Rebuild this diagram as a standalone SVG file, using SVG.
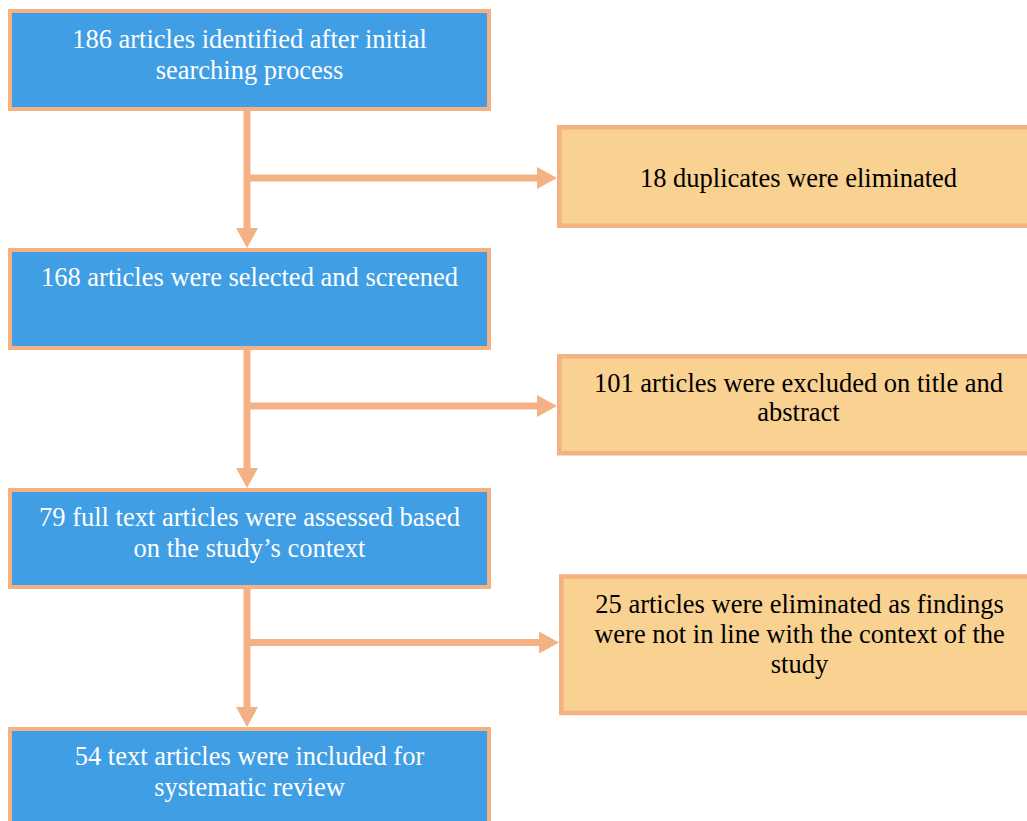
<svg xmlns="http://www.w3.org/2000/svg" width="1027" height="821" viewBox="0 0 1027 821">
  <style>
    .blue { fill: #3f9ee4; stroke: #f4b183; stroke-width: 4; }
    .orange { fill: #f9d190; stroke: #f4b183; stroke-width: 4.5; }
    .t { font-family: "Liberation Serif", "Times New Roman", serif; font-size: 26.5px; text-anchor: middle; }
    .tw { fill: #ffffff; }
    .tb { fill: #000000; }
    .conn { fill: none; stroke: #f4b183; stroke-width: 7; }
  </style>
  <defs>
    <marker id="arr" viewBox="0 0 20 22" refX="4" refY="11" markerWidth="20" markerHeight="22" markerUnits="userSpaceOnUse" orient="auto">
      <path d="M0,0 L20,11 L0,22 z" fill="#f4b183"/>
    </marker>
  </defs>
  <rect width="1027" height="821" fill="#ffffff"/>

  <g id="connectors">
    <path class="conn" d="M247,111 V232" marker-end="url(#arr)"/>
    <path class="conn" d="M247,178 H541" marker-end="url(#arr)"/>
    <path class="conn" d="M247,350 V472" marker-end="url(#arr)"/>
    <path class="conn" d="M247,406 H541" marker-end="url(#arr)"/>
    <path class="conn" d="M247,589 V711" marker-end="url(#arr)"/>
    <path class="conn" d="M247,642.5 H543" marker-end="url(#arr)"/>
  </g>

  <g id="node-identified">
    <rect class="blue" x="10" y="11" width="479" height="98"/>
    <text class="t tw" x="249.5" y="48">186 articles identified after initial</text>
    <text class="t tw" x="249.5" y="78.5">searching process</text>
  </g>

  <g id="node-duplicates">
    <rect class="orange" x="559.25" y="127.25" width="480" height="98.5"/>
    <text class="t tb" x="798.5" y="187">18 duplicates were eliminated</text>
  </g>

  <g id="node-screened">
    <rect class="blue" x="10" y="250" width="479" height="98"/>
    <text class="t tw" x="249.5" y="286">168 articles were selected and screened</text>
  </g>

  <g id="node-excluded">
    <rect class="orange" x="559.25" y="356.25" width="480" height="97"/>
    <text class="t tb" x="798.5" y="391.5">101 articles were excluded on title and</text>
    <text class="t tb" x="798.5" y="421">abstract</text>
  </g>

  <g id="node-assessed">
    <rect class="blue" x="10" y="490" width="479" height="97"/>
    <text class="t tw" x="249.5" y="526">79 full text articles were assessed based</text>
    <text class="t tw" x="249.5" y="556.5">on the study’s context</text>
  </g>

  <g id="node-eliminated">
    <rect class="orange" x="561.25" y="576.5" width="480" height="136.5"/>
    <text class="t tb" x="799.5" y="613">25 articles were eliminated as findings</text>
    <text class="t tb" x="799.5" y="643">were not in line with the context of the</text>
    <text class="t tb" x="799.5" y="673">study</text>
  </g>

  <g id="node-included">
    <rect class="blue" x="10" y="729" width="479" height="120"/>
    <text class="t tw" x="249.5" y="765">54 text articles were included for</text>
    <text class="t tw" x="249.5" y="795.5">systematic review</text>
  </g>
</svg>
